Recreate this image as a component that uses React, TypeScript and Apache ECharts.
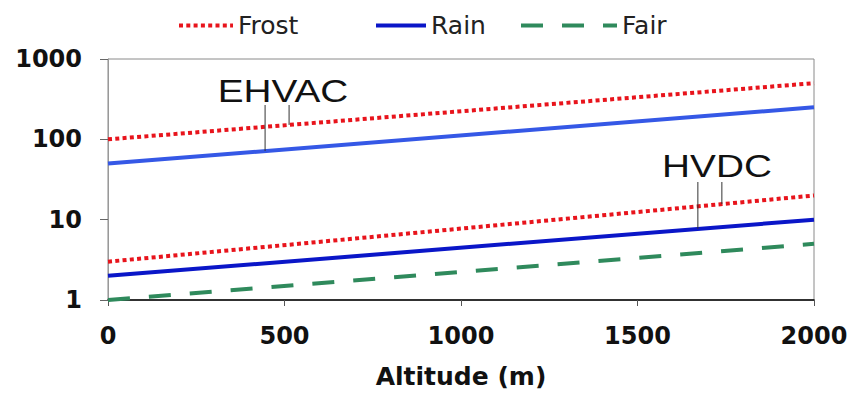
import React, { useEffect, useRef } from "react";
import * as echarts from "echarts";

// Altitude (m) at the ends of each straight (exponential) line
const altitude = [0, 2000];
// Values
const ehvacFrost = [100, 500];
const ehvacRain = [50, 250];
const hvdcFrost = [3, 20];
const hvdcRain = [2, 10];
const hvdcFair = [1, 5];
const legendNames = ["Frost", "Rain", "Fair"];
const xTickStep = 500;
const yRange = [1, 1000];

const RED = "#e8141c";
const BLUE_DARK = "#0a16c8";
const BLUE_LIGHT = "#3558e6";
const GREEN = "#2f8a5c";

const toPoints = (vals: number[]) => altitude.map((x, i) => [x, vals[i]]);
const valueAt = (vals: number[], x: number) =>
  vals[0] * Math.pow(vals[1] / vals[0], (x - altitude[0]) / (altitude[1] - altitude[0]));

export default function App() {
  const ref = useRef<HTMLDivElement>(null);
  useEffect(() => {
    if (!ref.current) return;
    const chart = echarts.init(ref.current, null, { renderer: "svg" });
    const labelFont = { fontFamily: "DejaVu Sans", fontWeight: "bold" as const, color: "#111" };
    const legendCommon = {
      top: 8,
      itemHeight: 14,
      selectedMode: false,
      itemStyle: { opacity: 0, borderWidth: 0 },
      lineStyle: { width: 4, opacity: 1 },
      textStyle: { fontFamily: "DejaVu Sans", fontSize: 25, color: "#222" },
    };
    const dotted = [4, 3.3];
    const dashed = [22, 19];
    chart.setOption({
      animation: false,
      backgroundColor: "#fff",
      grid: { left: 108, right: 39, top: 59, bottom: 94, show: true, borderColor: "#8a8a8a", borderWidth: 1 },
      legend: [
        { ...legendCommon, left: 172, itemWidth: 54, data: [legendNames[0]] },
        { ...legendCommon, left: 369, itemWidth: 50, data: [legendNames[1]] },
        { ...legendCommon, left: 514, itemWidth: 96, data: [legendNames[2]] },
      ],
      xAxis: {
        type: "value",
        min: altitude[0],
        max: altitude[1],
        interval: xTickStep,
        axisLine: { lineStyle: { color: "#000", width: 1.5 } },
        axisTick: { show: true, length: 6, lineStyle: { color: "#555" } },
        axisLabel: { ...labelFont, fontSize: 24, margin: 24, formatter: (v: number) => String(v) },
        splitLine: { show: false },
        name: "Altitude (m)",
        nameLocation: "middle",
        nameGap: 64,
        nameTextStyle: { ...labelFont, fontSize: 25 },
      },
      yAxis: {
        type: "log",
        logBase: 10,
        min: yRange[0],
        max: yRange[1],
        axisLine: { show: true, lineStyle: { color: "#999", width: 1 } },
        axisTick: { show: true, length: 8, lineStyle: { color: "#666" } },
        axisLabel: { ...labelFont, fontSize: 24, margin: 26, formatter: (v: number) => String(v) },
        splitLine: { show: false },
        minorTick: { show: false },
      },
      series: [
        { name: "Frost", type: "line", symbol: "none", data: toPoints(hvdcFrost), lineStyle: { color: RED, width: 4, type: dotted }, itemStyle: { color: RED } },
        { name: "Rain", type: "line", symbol: "none", data: toPoints(hvdcRain), lineStyle: { color: BLUE_DARK, width: 4 }, itemStyle: { color: BLUE_DARK } },
        { name: "Fair", type: "line", symbol: "none", data: toPoints(hvdcFair), lineStyle: { color: GREEN, width: 4, type: dashed }, itemStyle: { color: GREEN } },
        { name: "Frost", type: "line", symbol: "none", data: toPoints(ehvacFrost), lineStyle: { color: RED, width: 4, type: dotted }, itemStyle: { color: RED } },
        { name: "Rain", type: "line", symbol: "none", data: toPoints(ehvacRain), lineStyle: { color: BLUE_LIGHT, width: 4 }, itemStyle: { color: BLUE_LIGHT } },
      ],
    });

    const leaders = [
      { x: 445, vals: ehvacRain, top: 105 },
      { x: 513, vals: ehvacFrost, top: 105 },
      { x: 1671, vals: hvdcRain, top: 182 },
      { x: 1739, vals: hvdcFrost, top: 182 },
    ];
    const graphic: any[] = leaders.map((l) => {
      const p = chart.convertToPixel({ gridIndex: 0 }, [l.x, valueAt(l.vals, l.x)]) as number[];
      return {
        type: "line",
        shape: { x1: p[0], y1: l.top, x2: p[0], y2: p[1] },
        style: { stroke: "#333", lineWidth: 1 },
        z: 10,
      };
    });
    graphic.push(
      {
        type: "text",
        x: 283,
        y: 90.5,
        scaleX: 1.25,
        style: { text: "EHVAC", fontFamily: "Liberation Sans", fontSize: 31, fill: "#111", align: "center", verticalAlign: "middle" },
        z: 10,
      },
      {
        type: "text",
        x: 717,
        y: 166,
        scaleX: 1.25,
        style: { text: "HVDC", fontFamily: "Liberation Sans", fontSize: 31, fill: "#111", align: "center", verticalAlign: "middle" },
        z: 10,
      }
    );
    chart.setOption({ graphic });
    return () => chart.dispose();
  }, []);
  return <div ref={ref} style={{ width: 853, height: 394, position: "absolute", left: 0, top: 0 }} />;
}
